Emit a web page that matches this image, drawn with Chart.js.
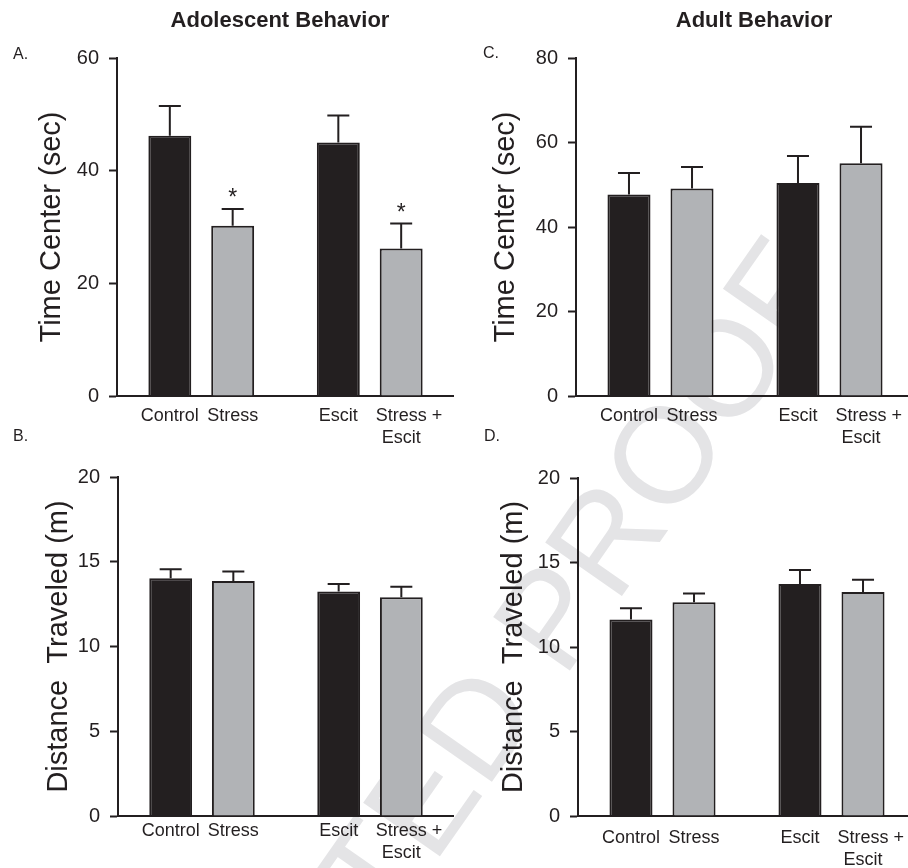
<!DOCTYPE html>
<html>
<head>
<meta charset="utf-8">
<script src="https://cdn.jsdelivr.net/npm/chart.js@4.4.1/dist/chart.umd.min.js"></script>
<style>
  html, body { margin: 0; padding: 0; background: #fff; }
  body { width: 908px; height: 868px; overflow: hidden; position: relative; }
  canvas { position: absolute; }
  .txt { position: absolute; font-family: "Liberation Sans", Arial, sans-serif; color: #231f20; white-space: nowrap; }
  .head { font-weight: bold; font-size: 22px; line-height: 26px; text-align: center; width: 300px; }
  .letter { font-size: 16px; line-height: 18px; }
</style>
</head>
<body>
<canvas id="mark" width="908" height="868" style="left:0;top:0"></canvas>
<canvas id="panelB" width="454" height="434" style="left:0;top:434px"></canvas>
<canvas id="panelD" width="462" height="434" style="left:454px;top:434px"></canvas>
<canvas id="panelA" width="454" height="460" style="left:0;top:0"></canvas>
<canvas id="panelC" width="460" height="460" style="left:454px;top:0"></canvas>

<div class="txt head" style="left:130px;top:7px">Adolescent Behavior</div>
<div class="txt head" style="left:604px;top:7px">Adult Behavior</div>
<div class="txt letter" style="left:13px;top:45px">A.</div>
<div class="txt letter" style="left:483px;top:44px">C.</div>
<div class="txt letter" style="left:13px;top:427px">B.</div>
<div class="txt letter" style="left:484px;top:427px">D.</div>

<script>
// groups and bar names
const groups = ["Vehicle", "Escit"];
const noStressNames = ["Control", "Escit"];
const stressNames = ["Stress", "Stress +\nEscit"];

// A. adolescent, time in center (sec)
const adoTimeNoStress = [46.2, 45.0];
const adoTimeNoStressSem = [5.3, 4.8];
const adoTimeStress = [30.2, 26.2];
const adoTimeStressSem = [3.0, 4.4];
const adoTimeStars = [true, true];

// C. adult, time in center (sec)
const adultTimeNoStress = [47.7, 50.4];
const adultTimeNoStressSem = [5.1, 6.4];
const adultTimeStress = [49.1, 55.1];
const adultTimeStressSem = [5.1, 8.6];

// B. adolescent, distance traveled (m)
const adoDistNoStress = [14.03, 13.24];
const adoDistNoStressSem = [0.53, 0.45];
const adoDistStress = [13.87, 12.9];
const adoDistStressSem = [0.55, 0.63];

// D. adult, distance traveled (m)
const adultDistNoStress = [11.62, 13.73];
const adultDistNoStressSem = [0.67, 0.83];
const adultDistStress = [12.65, 13.26];
const adultDistStressSem = [0.51, 0.72];

// y tick labels
const adoTimeTicks = [0, 20, 40, 60];
const adultTimeTicks = [0, 20, 40, 60, 80];
const distTicks = [0, 5, 10, 15, 20];

const BLACK = "#231f20";
const GRAY = "#b1b3b6";
const FONT = '"Liberation Sans", Arial, sans-serif';

//! watermark
(function () {
  const ctx = document.getElementById("mark").getContext("2d");
  const size = 136;
  ctx.font = size + "px " + FONT;
  ctx.fillStyle = "#e4e4e6";
  // centre of the last "O"
  ctx.translate(723, 367);
  ctx.rotate(-55 * Math.PI / 180);
  const before = ctx.measureText("UNCORRECTED PRO").width + ctx.measureText("O").width / 2;
  ctx.fillText("UNCORRECTED PROOF", -before, size * 0.358);
})();

//! error bars + stars
const errorBars = {
  id: "errorBars",
  afterDatasetsDraw(chart) {
    const { ctx } = chart;
    const y = chart.scales.y;
    ctx.save();
    ctx.strokeStyle = BLACK;
    ctx.fillStyle = BLACK;
    ctx.lineWidth = 2;
    chart.data.datasets.forEach((ds, di) => {
      chart.getDatasetMeta(di).data.forEach((bar, i) => {
        const top = y.getPixelForValue(ds.data[i] + ds.sem[i]);
        ctx.beginPath();
        ctx.moveTo(bar.x, bar.y);
        ctx.lineTo(bar.x, top);
        ctx.moveTo(bar.x - 11, top);
        ctx.lineTo(bar.x + 11, top);
        ctx.stroke();
        if (ds.stars && ds.stars[i]) {
          ctx.font = "23px " + FONT;
          ctx.textAlign = "center";
          ctx.textBaseline = "alphabetic";
          ctx.fillText("*", bar.x, top - 4);
        }
      });
    });
    ctx.restore();
  },
};

//! names under each bar
const barNames = {
  id: "barNames",
  afterDraw(chart, args, opts) {
    const { ctx, chartArea } = chart;
    ctx.save();
    ctx.fillStyle = BLACK;
    ctx.font = "18px " + FONT;
    ctx.textBaseline = "middle";
    chart.data.datasets.forEach((ds, di) => {
      chart.getDatasetMeta(di).data.forEach((bar, i) => {
        ds.names[i].split("\n").forEach((line, k) => {
          const yy = chartArea.bottom + opts.offset + k * 22;
          if (line.endsWith(" +")) {
            const core = ctx.measureText(line.slice(0, -2)).width;
            ctx.textAlign = "left";
            ctx.fillText(line, bar.x - core / 2, yy);
          } else {
            ctx.textAlign = "center";
            ctx.fillText(line, bar.x, yy);
          }
        });
      });
    });
    ctx.restore();
  },
};

function makePanel(id, p) {
  const canvas = document.getElementById(id);
  const h = canvas.height;
  return new Chart(canvas, {
    type: "bar",
    data: {
      labels: groups,
      datasets: [
        {
          label: "No stress",
          data: p.noStress,
          sem: p.noStressSem,
          names: noStressNames,
          backgroundColor: BLACK,
          borderColor: BLACK,
          borderWidth: 2,
        },
        {
          label: "Stress",
          data: p.stress,
          sem: p.stressSem,
          names: stressNames,
          stars: p.stars,
          backgroundColor: GRAY,
          borderColor: BLACK,
          borderWidth: 2,
        },
      ],
    },
    options: {
      responsive: false,
      animation: false,
      datasets: { bar: { categoryPercentage: 0.746, barPercentage: 0.683 } },
      layout: { padding: { left: 0, top: p.top, right: 0, bottom: 0 } },
      plugins: {
        legend: { display: false },
        tooltip: { enabled: false },
        barNames: { offset: p.nameOffset },
      },
      scales: {
        x: {
          grid: { display: false },
          border: { color: BLACK, width: 2 },
          ticks: { display: false },
          afterFit: (s) => { s.height = h - p.bottom; },
        },
        y: {
          min: p.ticks[0],
          max: p.ticks[p.ticks.length - 1],
          ticks: {
            stepSize: p.ticks[1] - p.ticks[0],
            color: BLACK,
            padding: 10,
            font: { family: FONT, size: 20 },
          },
          grid: { drawOnChartArea: false, tickLength: 8, tickWidth: 2, tickColor: BLACK },
          border: { color: BLACK, width: 2 },
          title: {
            display: true,
            text: p.title,
            color: BLACK,
            font: { family: FONT, size: 29 },
            padding: { top: p.titlePad, bottom: 0 },
          },
          afterFit: (s) => { s.width = p.left; },
        },
      },
    },
    plugins: [errorBars, barNames],
  });
}

makePanel("panelA", {
  noStress: adoTimeNoStress, noStressSem: adoTimeNoStressSem,
  stress: adoTimeStress, stressSem: adoTimeStressSem, stars: adoTimeStars,
  ticks: adoTimeTicks, title: "Time Center (sec)",
  left: 117, top: 58, bottom: 396, titlePad: 34.6, nameOffset: 20,
});

makePanel("panelC", {
  noStress: adultTimeNoStress, noStressSem: adultTimeNoStressSem,
  stress: adultTimeStress, stressSem: adultTimeStressSem,
  ticks: adultTimeTicks, title: "Time Center (sec)",
  left: 122, top: 58, bottom: 396, titlePad: 34.6, nameOffset: 20,
});

makePanel("panelB", {
  noStress: adoDistNoStress, noStressSem: adoDistNoStressSem,
  stress: adoDistStress, stressSem: adoDistStressSem,
  ticks: distTicks, title: "Distance  Traveled (m)",
  left: 118, top: 43, bottom: 382, titlePad: 41.6, nameOffset: 15.5,
});

makePanel("panelD", {
  noStress: adultDistNoStress, noStressSem: adultDistNoStressSem,
  stress: adultDistStress, stressSem: adultDistStressSem,
  ticks: distTicks, title: "Distance  Traveled (m)",
  left: 124, top: 44, bottom: 382, titlePad: 43, nameOffset: 22,
});
</script>
</body>
</html>
